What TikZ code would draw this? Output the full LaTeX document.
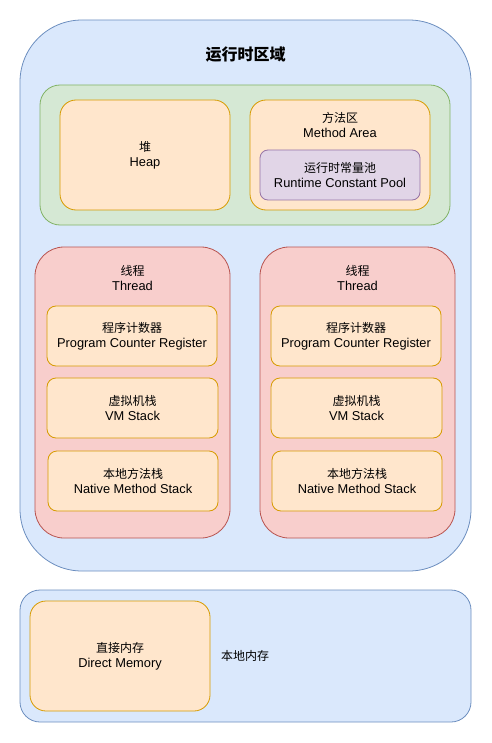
\documentclass[tikz,border=0pt]{standalone}
\usepackage{fontspec}
\setmainfont{Liberation Sans}[Scale=1.07]
\newfontfamily\cjk{Noto Sans CJK SC}
\definecolor{blueF}{HTML}{DAE8FC}
\definecolor{blueD}{HTML}{6C8EBF}
\definecolor{greenF}{HTML}{D5E8D4}
\definecolor{greenD}{HTML}{82B366}
\definecolor{orangeF}{HTML}{FFE6CC}
\definecolor{orangeD}{HTML}{D79B00}
\definecolor{purpleF}{HTML}{E1D5E7}
\definecolor{purpleD}{HTML}{9673A6}
\definecolor{redF}{HTML}{F8CECC}
\definecolor{redD}{HTML}{B85450}
\begin{document}
\begin{tikzpicture}[x=1pt,y=-1pt,
  box/.style={rectangle, inner sep=0pt, line width=0.8pt, align=center, font=\fontsize{12}{15}\selectfont},
  bluebox/.style={box, draw=blueD, fill=blueF},
  greenbox/.style={box, draw=greenD, fill=greenF},
  orangebox/.style={box, draw=orangeD, fill=orangeF},
  purplebox/.style={box, draw=purpleD, fill=purpleF},
  redbox/.style={box, draw=redD, fill=redF},
  txt/.style={inner sep=0pt, align=center, font=\fontsize{12}{15}\selectfont}]
\useasboundingbox (0,0) rectangle (491,743);
% runtime area
\node[bluebox, rounded corners=62pt, minimum width=451pt, minimum height=551pt] (rt) at (245.5,295.5) {};
\node[inner sep=0pt, font=\cjk\bfseries\fontsize{16}{18}\selectfont] (title) at (245.5,55) {运行时区域};
% shared
\node[greenbox, rounded corners=20pt, minimum width=410pt, minimum height=140pt] (shared) at (245,155) {};
\node[orangebox, rounded corners=16pt, minimum width=170pt, minimum height=110pt] (heap) at (145,155) {{\cjk 堆}\\Heap};
\node[orangebox, rounded corners=16pt, minimum width=180pt, minimum height=110pt] (method) at (340,155) {};
\node[txt] (methodtxt) at (340,124.5) {{\cjk 方法区}\\Method Area};
\node[purplebox, rounded corners=8pt, minimum width=160pt, minimum height=50pt] (pool) at (340,175) {{\cjk 运行时常量池}\\Runtime Constant Pool};
% thread 1
\node[redbox, rounded corners=29pt, minimum width=195pt, minimum height=291pt] (th1) at (132.5,392.5) {};
\node[txt] (th1txt) at (132.5,278.5) {{\cjk 线程}\\Thread};
\node[orangebox, rounded corners=9pt, minimum width=170pt, minimum height=60pt] (pc1) at (132,336) {{\cjk 程序计数器}\\Program Counter Register};
\node[orangebox, rounded corners=9pt, minimum width=171pt, minimum height=60pt] (vm1) at (132.5,408) {{\cjk 虚拟机栈}\\VM Stack};
\node[orangebox, rounded corners=9pt, minimum width=170pt, minimum height=60pt] (nm1) at (133,481) {{\cjk 本地方法栈}\\Native Method Stack};
% thread 2
\node[redbox, rounded corners=29pt, minimum width=195pt, minimum height=291pt] (th2) at (357.5,392.5) {};
\node[txt] (th2txt) at (357.5,278.5) {{\cjk 线程}\\Thread};
\node[orangebox, rounded corners=9pt, minimum width=170pt, minimum height=60pt] (pc2) at (356,336) {{\cjk 程序计数器}\\Program Counter Register};
\node[orangebox, rounded corners=9pt, minimum width=171pt, minimum height=60pt] (vm2) at (356.5,408) {{\cjk 虚拟机栈}\\VM Stack};
\node[orangebox, rounded corners=9pt, minimum width=170pt, minimum height=60pt] (nm2) at (357,481) {{\cjk 本地方法栈}\\Native Method Stack};
% native memory
\node[bluebox, rounded corners=20pt, minimum width=451pt, minimum height=132pt] (native) at (245.5,656) {};
\node[orangebox, rounded corners=16pt, minimum width=180pt, minimum height=110pt] (direct) at (120,656) {{\cjk 直接内存}\\Direct Memory};
\node[txt, anchor=west, font=\cjk\fontsize{12}{15}\selectfont] (nativetxt) at (221,656) {本地内存};
\end{tikzpicture}
\end{document}
